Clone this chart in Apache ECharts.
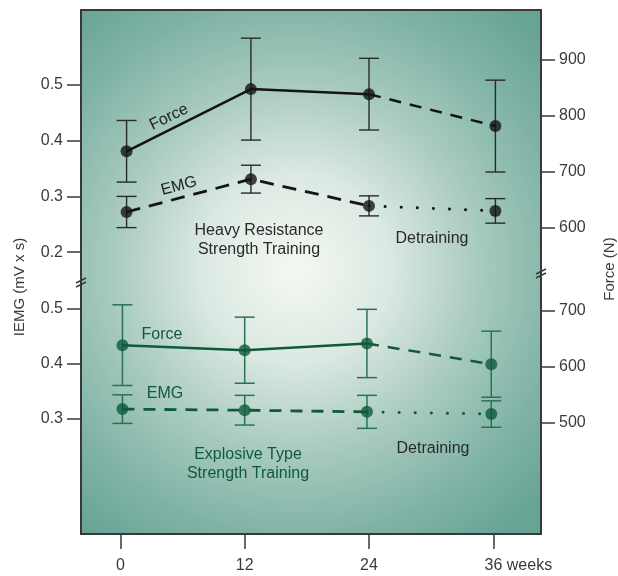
<!DOCTYPE html>
<html>
<head>
<meta charset="utf-8">
<script src="https://cdn.jsdelivr.net/npm/echarts@6/dist/echarts.min.js"></script>
<style>
html,body{margin:0;padding:0;background:#fff;}
#chart{width:618px;height:576px;}
</style>
</head>
<body>
<div id="chart"></div>
<script>
// ---- data ----
const weekTicks = [0, 12, 24, 36];
const heavyWeeks = [0.6, 12.6, 24.0, 36.2];
const explosiveWeeks = [0.2, 12.0, 23.8, 35.8];

const heavyForce = [737, 848, 839, 782];
const heavyForceErr = [55, 91, 64, 82];
const heavyEmg = [0.272, 0.331, 0.283, 0.274];
const heavyEmgErr = [0.028, 0.025, 0.018, 0.022];

const explosiveForce = [639, 630, 642, 605];
const explosiveForceErr = [72, 59, 61, 59];
const explosiveEmg = [0.318, 0.316, 0.313, 0.309];
const explosiveEmgErr = [0.026, 0.027, 0.030, 0.024];

const heavyEmgTicks = [0.2, 0.3, 0.4, 0.5];
const heavyForceTicks = [600, 700, 800, 900];
const explosiveEmgTicks = [0.3, 0.4, 0.5];
const explosiveForceTicks = [500, 600, 700];

// ---- styling ----
const FONT = "'Liberation Sans', Arial, Helvetica, sans-serif";
const BLACK = '#141414';
const GREEN = '#0f5a3a';
const GREEN_BAR = '#2a7257';
const AXIS = '#383838';
const LABEL = '#3a3a3a';

const bg = {
  type: 'radial', x: 295, y: 268, r: 335, global: true,
  colorStops: [
    {offset: 0, color: '#f5f8f3'},
    {offset: 0.28, color: '#dbe9e2'},
    {offset: 0.55, color: '#a8cabf'},
    {offset: 0.8, color: '#80b3a6'},
    {offset: 1, color: '#68a496'}
  ]
};

function pts(xs, ys, from, to) {
  const out = [];
  for (let i = from; i <= to; i++) out.push([xs[i], ys[i]]);
  return out;
}
function errData(xs, ys, es) {
  return ys.map((v, i) => [xs[i], v - es[i], v + es[i]]);
}
function errSeries(xs, ys, es, xi, yi, color, w) {
  return {
    type: 'custom', xAxisIndex: xi, yAxisIndex: yi, z: 3,
    encode: {x: 0, y: [1, 2]},
    data: errData(xs, ys, es),
    renderItem: function (params, api) {
      const x = api.value(0), lo = api.value(1), hi = api.value(2);
      const a = api.coord([x, lo]), b = api.coord([x, hi]);
      const hw = 10;
      const st = {stroke: color, lineWidth: w};
      return {type: 'group', children: [
        {type: 'line', shape: {x1: a[0], y1: a[1], x2: b[0], y2: b[1]}, style: st},
        {type: 'line', shape: {x1: a[0] - hw, y1: a[1], x2: a[0] + hw, y2: a[1]}, style: st},
        {type: 'line', shape: {x1: b[0] - hw, y1: b[1], x2: b[0] + hw, y2: b[1]}, style: st}
      ]};
    }
  };
}
function lineSeries(data, xi, yi, color, width, type, cap) {
  return {
    type: 'line', xAxisIndex: xi, yAxisIndex: yi, data: data, symbol: 'none', z: 4,
    lineStyle: {color: color, width: width, type: type, cap: cap || 'butt'},
    silent: true, animation: false
  };
}
function dotSeries(xs, ys, xi, yi, color) {
  return {
    type: 'scatter', xAxisIndex: xi, yAxisIndex: yi, data: pts(xs, ys, 0, ys.length - 1),
    symbol: 'circle', symbolSize: 12, z: 5, itemStyle: {color: color}, animation: false
  };
}

const tickStyle = {show: true, inside: false, length: 14, lineStyle: {color: AXIS, width: 1.5}};
function yAxis(grid, pos, min, max, ticks, fmt) {
  return {
    type: 'value', gridIndex: grid, position: pos, min: min, max: max,
    splitLine: {show: false},
    axisLine: {show: true, onZero: false, lineStyle: {color: AXIS, width: 2}},
    axisTick: Object.assign({customValues: ticks}, tickStyle),
    axisLabel: {customValues: ticks, margin: 18, color: LABEL, fontSize: 16, fontFamily: FONT,
      formatter: fmt}
  };
}
const fmt1 = v => v.toFixed(1);
const fmt0 = v => String(Math.round(v));

const option = {
  animation: false,
  backgroundColor: '#ffffff',
  grid: [
    {left: 81, right: 77, top: 10, height: 268, show: true, backgroundColor: bg, borderWidth: 0},
    {left: 81, right: 77, top: 278, height: 256, show: true, backgroundColor: bg, borderWidth: 0}
  ],
  xAxis: [
    {type: 'value', gridIndex: 0, position: 'top', min: -3.8, max: 40.6,
      splitLine: {show: false}, axisTick: {show: false}, axisLabel: {show: false},
      axisLine: {show: true, onZero: false, lineStyle: {color: AXIS, width: 2}}},
    {type: 'value', gridIndex: 1, position: 'bottom', min: -3.8, max: 40.6,
      splitLine: {show: false},
      axisLine: {show: true, onZero: false, lineStyle: {color: AXIS, width: 2}},
      axisTick: {show: true, customValues: weekTicks, length: 15, lineStyle: {color: AXIS, width: 1.5}},
      axisLabel: {customValues: weekTicks, margin: 24, color: LABEL, fontSize: 16, fontFamily: FONT,
        formatter: v => v === 36 ? '{pad|}36{w| weeks}' : String(v),
        rich: {pad: {width: 50}, w: {fontSize: 16, fontFamily: FONT, color: LABEL}}}}
  ],
  yAxis: [
    yAxis(0, 'left', 0.1535, 0.6347, heavyEmgTicks, fmt1),
    yAxis(0, 'right', 510.7, 989.3, heavyForceTicks, fmt0),
    yAxis(1, 'left', 0.0909, 0.5564, explosiveEmgTicks, fmt1),
    yAxis(1, 'right', 301.8, 758.9, explosiveForceTicks, fmt0)
  ],
  series: [
    // heavy resistance (black)
    errSeries(heavyWeeks, heavyForce, heavyForceErr, 0, 1, '#2a2a2a', 1.4),
    errSeries(heavyWeeks, heavyEmg, heavyEmgErr, 0, 0, '#2a2a2a', 1.4),
    lineSeries(pts(heavyWeeks, heavyForce, 0, 2), 0, 1, BLACK, 2.5, 'solid'),
    lineSeries(pts(heavyWeeks, heavyForce, 2, 3), 0, 1, BLACK, 2.5, [12, 9]),
    lineSeries(pts(heavyWeeks, heavyEmg, 0, 2), 0, 0, BLACK, 2.8, [14, 9]),
    lineSeries(pts(heavyWeeks, heavyEmg, 2, 3), 0, 0, BLACK, 3, [0.1, 16], 'round'),
    dotSeries(heavyWeeks, heavyForce, 0, 1, BLACK),
    dotSeries(heavyWeeks, heavyEmg, 0, 0, BLACK),
    // explosive type (green)
    errSeries(explosiveWeeks, explosiveForce, explosiveForceErr, 1, 3, GREEN_BAR, 1.5),
    errSeries(explosiveWeeks, explosiveEmg, explosiveEmgErr, 1, 2, GREEN_BAR, 1.5),
    lineSeries(pts(explosiveWeeks, explosiveForce, 0, 2), 1, 3, GREEN, 2.5, 'solid'),
    lineSeries(pts(explosiveWeeks, explosiveForce, 2, 3), 1, 3, GREEN, 2.5, [12, 9]),
    lineSeries(pts(explosiveWeeks, explosiveEmg, 0, 2), 1, 2, GREEN, 2.8, [12, 9]),
    lineSeries(pts(explosiveWeeks, explosiveEmg, 2, 3), 1, 2, GREEN, 3, [0.1, 16], 'round'),
    dotSeries(explosiveWeeks, explosiveForce, 1, 3, GREEN),
    dotSeries(explosiveWeeks, explosiveEmg, 1, 2, GREEN)
  ],
  graphic: {elements: [
    // axis names
    {type: 'text', x: 20, y: 287, rotation: Math.PI / 2, z: 50,
      style: {text: 'IEMG (mV x s)', font: '15px ' + FONT, fill: LABEL, textAlign: 'center', textVerticalAlign: 'middle'}},
    {type: 'text', x: 610, y: 269, rotation: Math.PI / 2, z: 50,
      style: {text: 'Force (N)', font: '15px ' + FONT, fill: LABEL, textAlign: 'center', textVerticalAlign: 'middle'}},
    // axis break marks
    {type: 'group', x: 81, y: 282, z: 50, children: [
      {type: 'line', shape: {x1: -5, y1: 1, x2: 5, y2: -4}, style: {stroke: AXIS, lineWidth: 1.5}},
      {type: 'line', shape: {x1: -5, y1: 5, x2: 5, y2: 0}, style: {stroke: AXIS, lineWidth: 1.5}}
    ]},
    {type: 'group', x: 541, y: 273, z: 50, children: [
      {type: 'line', shape: {x1: -5, y1: 1, x2: 5, y2: -4}, style: {stroke: AXIS, lineWidth: 1.5}},
      {type: 'line', shape: {x1: -5, y1: 5, x2: 5, y2: 0}, style: {stroke: AXIS, lineWidth: 1.5}}
    ]},
    // annotations, top panel
    {type: 'text', x: 169, y: 117, rotation: 26 * Math.PI / 180, z: 50,
      style: {text: 'Force', font: '16px ' + FONT, fill: '#222', textAlign: 'center', textVerticalAlign: 'middle'}},
    {type: 'text', x: 179, y: 186, rotation: 15 * Math.PI / 180, z: 50,
      style: {text: 'EMG', font: '16px ' + FONT, fill: '#222', textAlign: 'center', textVerticalAlign: 'middle'}},
    {type: 'text', x: 259, y: 240, z: 50,
      style: {text: 'Heavy Resistance\nStrength Training', font: '16px ' + FONT, lineHeight: 19, fill: '#2a2a2a', textAlign: 'center', textVerticalAlign: 'middle'}},
    {type: 'text', x: 432, y: 239, z: 50,
      style: {text: 'Detraining', font: '16px ' + FONT, fill: '#2a2a2a', textAlign: 'center', textVerticalAlign: 'middle'}},
    // annotations, bottom panel
    {type: 'text', x: 162, y: 335, z: 50,
      style: {text: 'Force', font: '16px ' + FONT, fill: GREEN, textAlign: 'center', textVerticalAlign: 'middle'}},
    {type: 'text', x: 165, y: 394, z: 50,
      style: {text: 'EMG', font: '16px ' + FONT, fill: GREEN, textAlign: 'center', textVerticalAlign: 'middle'}},
    {type: 'text', x: 248, y: 464, z: 50,
      style: {text: 'Explosive Type\nStrength Training', font: '16px ' + FONT, lineHeight: 19, fill: GREEN, textAlign: 'center', textVerticalAlign: 'middle'}},
    {type: 'text', x: 433, y: 449, z: 50,
      style: {text: 'Detraining', font: '16px ' + FONT, fill: '#2a2a2a', textAlign: 'center', textVerticalAlign: 'middle'}}
  ]}
};

const chart = echarts.init(document.getElementById('chart'), null, {renderer: 'canvas'});
chart.setOption(option);
</script>
</body>
</html>
